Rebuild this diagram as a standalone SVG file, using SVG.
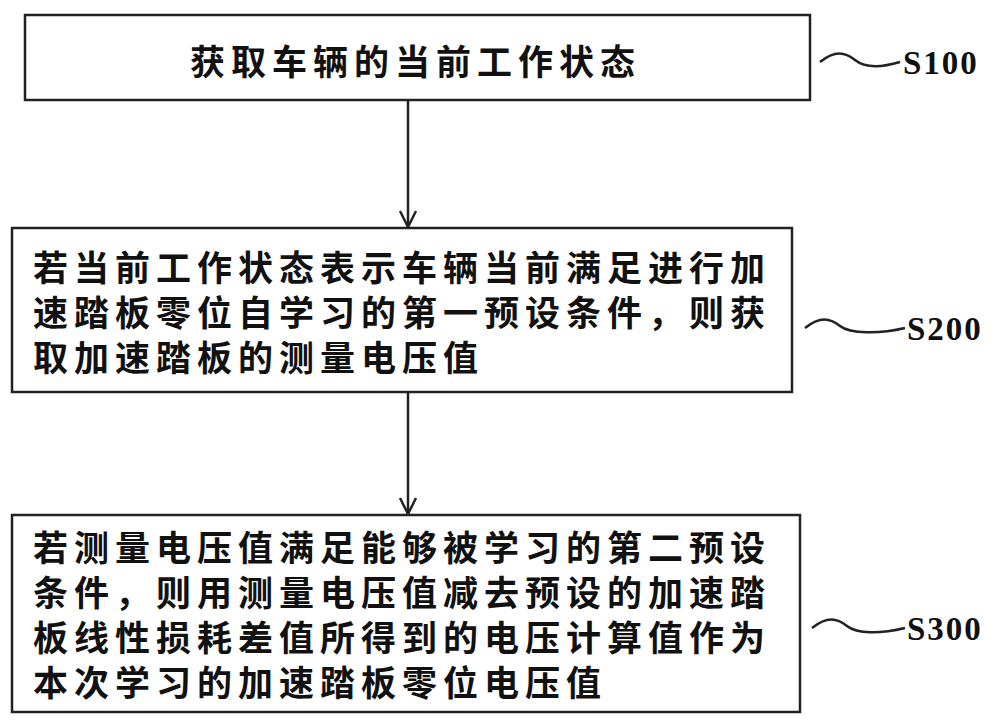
<svg xmlns="http://www.w3.org/2000/svg" width="1000" height="723" viewBox="0 0 1000 723">
<defs>
<style>
.box{fill:#fff;stroke:#222;stroke-width:2.5}
.t{font-family:"Noto Sans CJK SC","Noto Sans CJK JP",sans-serif;font-size:35px;font-weight:bold;fill:#111;letter-spacing:6px}
.lbl{font-family:"Liberation Serif",serif;font-size:33px;font-weight:bold;fill:#111;letter-spacing:2px}
.ln{fill:none;stroke:#222;stroke-width:2.5}
</style>
<marker id="ah" viewBox="0 0 20 20" refX="18" refY="10" markerWidth="20" markerHeight="20" markerUnits="userSpaceOnUse" orient="auto">
<path d="M2,2 L18,10 L2,18" fill="none" stroke="#222" stroke-width="2.5"/>
</marker>
</defs>
<rect width="1000" height="723" fill="#fff"/>
<g id="n1"><rect class="box" x="25" y="15" width="785" height="85"/>
<text class="t" x="190" y="75">获取车辆的当前工作状态</text></g>
<g id="n2"><rect class="box" x="12" y="228" width="780" height="164"/>
<text class="t" x="33" y="281">若当前工作状态表示车辆当前满足进行加</text>
<text class="t" x="33" y="326">速踏板零位自学习的第一预设条件，则获</text>
<text class="t" x="33" y="371">取加速踏板的测量电压值</text></g>
<g id="n3"><rect class="box" x="12" y="515" width="788" height="197"/>
<text class="t" x="33" y="561">若测量电压值满足能够被学习的第二预设</text>
<text class="t" x="33" y="606">条件，则用测量电压值减去预设的加速踏</text>
<text class="t" x="33" y="651">板线性损耗差值所得到的电压计算值作为</text>
<text class="t" x="33" y="696">本次学习的加速踏板零位电压值</text></g>
<g id="connectors">
<line class="ln" x1="408" y1="100" x2="408" y2="227" marker-end="url(#ah)"/>
<line class="ln" x1="408" y1="392" x2="408" y2="514" marker-end="url(#ah)"/>
<path class="ln" d="M820,62 C835,50 845,52 855,60 C865,68 880,68 900,62"/>
<path class="ln" d="M805,328 C820,316 830,318 840,326 C850,334 880,334 905,328"/>
<path class="ln" d="M812,628 C827,616 837,618 847,626 C857,634 880,634 905,628"/>
</g>
<g id="labels">
<text class="lbl" x="903" y="74">S100</text>
<text class="lbl" x="907" y="340">S200</text>
<text class="lbl" x="907" y="640">S300</text>
</g>
</svg>
